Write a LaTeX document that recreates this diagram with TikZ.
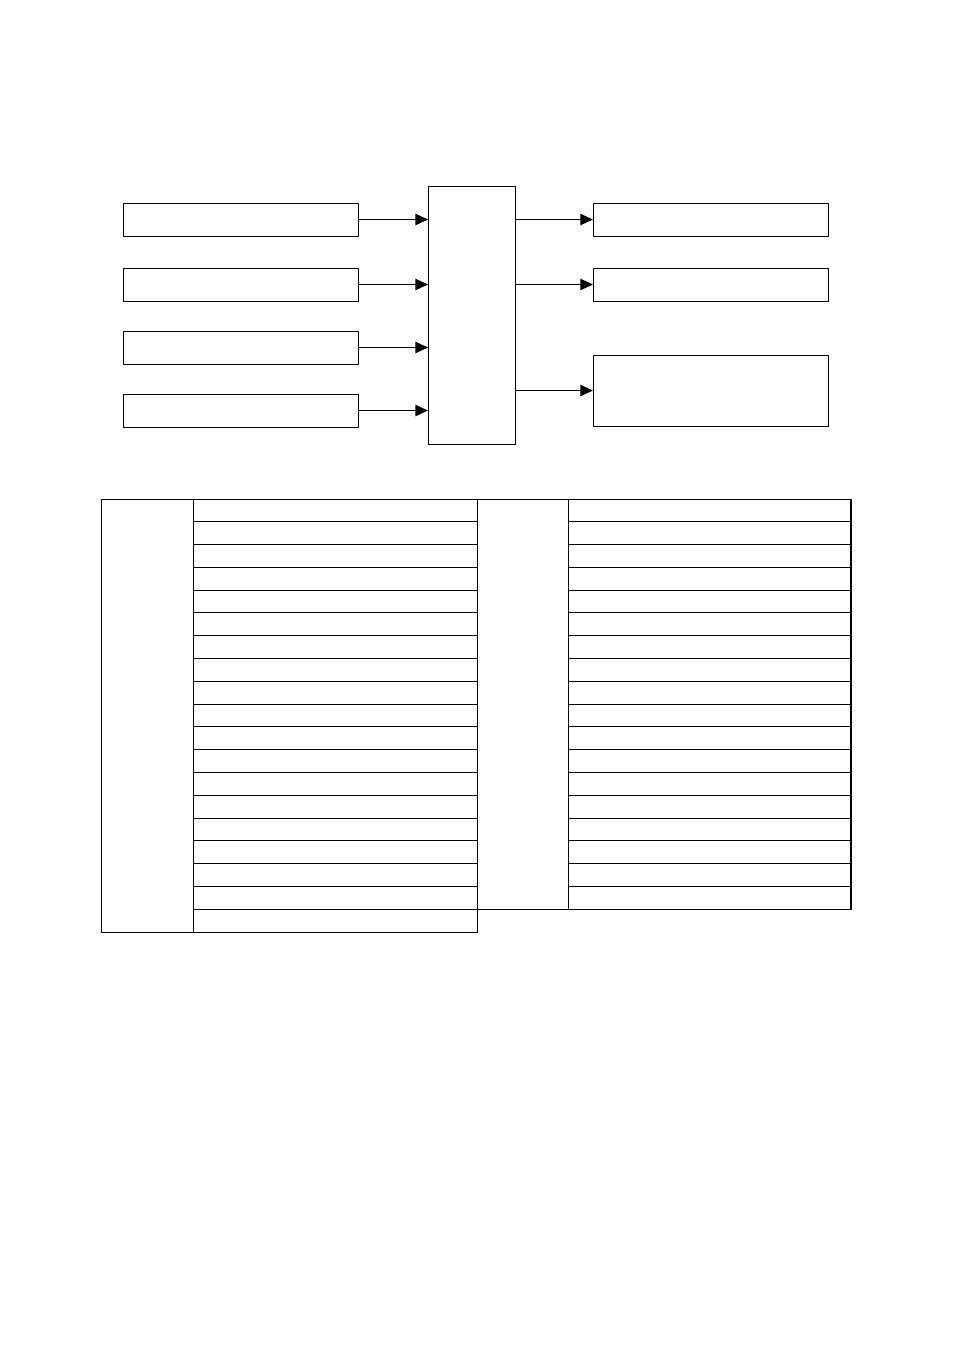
\documentclass[tikz,border=0pt]{standalone}
\usetikzlibrary{arrows.meta}
\begin{document}
\begin{tikzpicture}[x=0.75pt,y=-0.75pt,
  box/.style={draw, line width=0.75pt, rectangle, inner sep=0pt, outer sep=0pt, anchor=north west},
  arr/.style={line width=0.75pt, -{Triangle[length=9.5pt,width=8.5pt]}},
  cell/.style={line width=0.75pt}]
\useasboundingbox (0,0) rectangle (954,1350);
% top diagram
\node[box, minimum width=235*0.75pt, minimum height=33*0.75pt] (l1) at (123,203) {};
\node[box, minimum width=235*0.75pt, minimum height=33*0.75pt] (l2) at (123,268) {};
\node[box, minimum width=235*0.75pt, minimum height=33*0.75pt] (l3) at (123,331) {};
\node[box, minimum width=235*0.75pt, minimum height=33*0.75pt] (l4) at (123,394) {};
\node[box, minimum width=87*0.75pt, minimum height=258*0.75pt] (c) at (428,186) {};
\node[box, minimum width=235*0.75pt, minimum height=33*0.75pt] (r1) at (593,203) {};
\node[box, minimum width=235*0.75pt, minimum height=33*0.75pt] (r2) at (593,268) {};
\node[box, minimum width=235*0.75pt, minimum height=71*0.75pt] (r3) at (593,355) {};
\draw[arr] (l1.east) -- (c.west |- l1.east);
\draw[arr] (l2.east) -- (c.west |- l2.east);
\draw[arr] (l3.east) -- (c.west |- l3.east);
\draw[arr, line width=1.2pt] (l4.east) -- (c.west |- l4.east);
\draw[arr] (c.east |- r1.west) -- (r1.west);
\draw[arr] (c.east |- r2.west) -- (r2.west);
\draw[arr] (c.east |- r3.west) -- (r3.west);
% table
\def\rh{22.79}
\draw[cell] (101,499) rectangle (193,932);
\foreach \i in {0,...,18}{
  \draw[cell] (193,{499+\i*\rh}) rectangle (477,{499+(\i+1)*\rh});
}
\draw[cell] (477,499) rectangle (568,{499+18*\rh});
\foreach \i in {0,...,17}{
  \draw[cell] (568,{499+\i*\rh}) rectangle (851,{499+(\i+1)*\rh});
}
\draw[line width=1.2pt] (851,499) -- (851,{499+18*\rh});
\end{tikzpicture}
\end{document}
